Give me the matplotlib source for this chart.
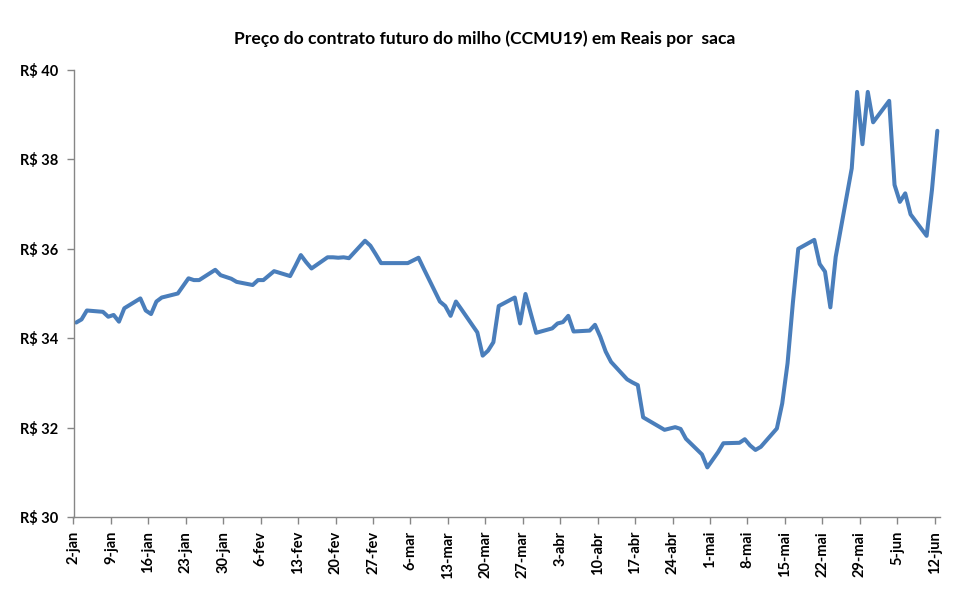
import numpy as np
import matplotlib
matplotlib.use("Agg")
import matplotlib.pyplot as plt
import matplotlib.dates as mdates

dates = ["2019-01-02", "2019-01-03", "2019-01-04", "2019-01-07", "2019-01-08", "2019-01-09",
         "2019-01-10", "2019-01-11", "2019-01-14", "2019-01-15", "2019-01-16", "2019-01-17",
         "2019-01-18", "2019-01-21", "2019-01-22", "2019-01-23", "2019-01-24", "2019-01-25",
         "2019-01-28", "2019-01-29", "2019-01-30", "2019-01-31", "2019-02-01", "2019-02-04",
         "2019-02-05", "2019-02-06", "2019-02-07", "2019-02-08", "2019-02-11", "2019-02-12",
         "2019-02-13", "2019-02-14", "2019-02-15", "2019-02-18", "2019-02-19", "2019-02-20",
         "2019-02-21", "2019-02-22", "2019-02-25", "2019-02-26", "2019-02-27", "2019-02-28",
         "2019-03-01", "2019-03-05", "2019-03-06", "2019-03-07", "2019-03-08", "2019-03-11",
         "2019-03-12", "2019-03-13", "2019-03-14", "2019-03-15", "2019-03-18", "2019-03-19",
         "2019-03-20", "2019-03-21", "2019-03-22", "2019-03-25", "2019-03-26", "2019-03-27",
         "2019-03-28", "2019-03-29", "2019-04-01", "2019-04-02", "2019-04-03", "2019-04-04",
         "2019-04-05", "2019-04-08", "2019-04-09", "2019-04-10", "2019-04-11", "2019-04-12",
         "2019-04-15", "2019-04-16", "2019-04-17", "2019-04-18", "2019-04-22", "2019-04-23",
         "2019-04-24", "2019-04-25", "2019-04-26", "2019-04-29", "2019-04-30", "2019-05-02",
         "2019-05-03", "2019-05-06", "2019-05-07", "2019-05-08", "2019-05-09", "2019-05-10",
         "2019-05-13", "2019-05-14", "2019-05-15", "2019-05-16", "2019-05-17", "2019-05-20",
         "2019-05-21", "2019-05-22", "2019-05-23", "2019-05-24", "2019-05-27", "2019-05-28",
         "2019-05-29", "2019-05-30", "2019-05-31", "2019-06-03", "2019-06-04", "2019-06-05",
         "2019-06-06", "2019-06-07", "2019-06-10", "2019-06-11", "2019-06-12"]

precos = [34.35, 34.42, 34.62, 34.59, 34.48, 34.52,
          34.37, 34.67, 34.89, 34.62, 34.54, 34.82,
          34.91, 35.00, 35.17, 35.34, 35.30, 35.30,
          35.53, 35.41, 35.37, 35.33, 35.26, 35.19,
          35.30, 35.30, 35.40, 35.50, 35.39, 35.62,
          35.86, 35.70, 35.56, 35.81, 35.81, 35.80,
          35.81, 35.79, 36.18, 36.07, 35.88, 35.68,
          35.68, 35.68, 35.74, 35.80, 35.55, 34.82,
          34.72, 34.50, 34.82, 34.65, 34.13, 33.61,
          33.72, 33.91, 34.72, 34.91, 34.33, 34.99,
          34.55, 34.12, 34.22, 34.33, 34.36, 34.50,
          34.15, 34.17, 34.30, 34.03, 33.70, 33.47,
          33.08, 33.01, 32.95, 32.23, 31.95, 31.98,
          32.01, 31.97, 31.75, 31.40, 31.11, 31.45,
          31.65, 31.66, 31.74, 31.60, 31.50, 31.57,
          31.98, 32.54, 33.44, 34.80, 36.00, 36.20,
          35.66, 35.49, 34.69, 35.82, 37.80, 39.51,
          38.34, 39.51, 38.83, 39.31, 37.43, 37.05,
          37.24, 36.77, 36.29, 37.32, 38.64]

tick_dates = ["2019-01-02", "2019-01-09", "2019-01-16", "2019-01-23", "2019-01-30",
              "2019-02-06", "2019-02-13", "2019-02-20", "2019-02-27", "2019-03-06",
              "2019-03-13", "2019-03-20", "2019-03-27", "2019-04-03", "2019-04-10",
              "2019-04-17", "2019-04-24", "2019-05-01", "2019-05-08", "2019-05-15",
              "2019-05-22", "2019-05-29", "2019-06-05", "2019-06-12"]
tick_labels = ["2-jan", "9-jan", "16-jan", "23-jan", "30-jan", "6-fev", "13-fev", "20-fev",
               "27-fev", "6-mar", "13-mar", "20-mar", "27-mar", "3-abr", "10-abr", "17-abr",
               "24-abr", "1-mai", "8-mai", "15-mai", "22-mai", "29-mai", "5-jun", "12-jun"]
y_ticks = [30, 32, 34, 36, 38, 40]

title = "Preço do contrato futuro do milho (CCMU19) em Reais por  saca"

FONT = ["Lato", "DejaVu Sans"]
plt.rcParams["font.family"] = FONT

x = mdates.date2num(np.array(dates, dtype="datetime64[D]")) + 0.5
xt = mdates.date2num(np.array(tick_dates, dtype="datetime64[D]"))

fig = plt.figure(figsize=(9.61, 5.94), dpi=100)
ax = fig.add_axes([73.5 / 961, 1 - 517 / 594, (940 - 73.5) / 961, (517 - 70) / 594])

ax.plot(x, precos, color="#4A7EBB", lw=2.9, solid_joinstyle="round", solid_capstyle="round")

ax.set_xlim(xt[0], xt[-1] + 1)
ax.set_ylim(30, 40)
ax.set_xticks(xt)
ax.set_xticklabels(tick_labels, rotation=90, fontsize=10.5, fontweight="bold", va="top", ha="center")
ax.set_yticks(y_ticks)
ax.set_yticklabels([f"R$ {v}" for v in y_ticks], fontsize=10.5, fontweight="bold")

for s in ["top", "right"]:
    ax.spines[s].set_visible(False)
for s in ["left", "bottom"]:
    ax.spines[s].set_color("#868686")
    ax.spines[s].set_linewidth(1.0)
ax.tick_params(axis="both", direction="out", length=5, width=1.0, color="#868686", labelcolor="black")
ax.tick_params(axis="y", pad=6)
ax.tick_params(axis="x", pad=5)

fig.text(485 / 961, 1 - 39 / 594, title, ha="center", va="center", fontsize=12.6, fontweight="bold")

fig.savefig("out.png", dpi=100)
